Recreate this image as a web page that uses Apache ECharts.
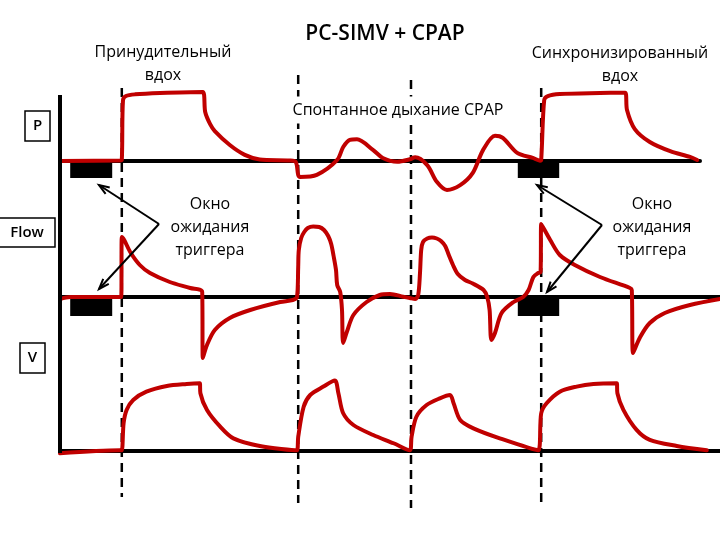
<!DOCTYPE html>
<html>
<head>
<meta charset="utf-8">
<script src="https://cdn.jsdelivr.net/npm/echarts@6/dist/echarts.min.js"></script>
<style>
  html, body { margin: 0; padding: 0; background: #fff; }
  #main { width: 720px; height: 540px; }
</style>
</head>
<body>
<div id="main"></div>
<script>
// time in arbitrary units (1 unit ~ one tick of the sweep), values per panel
const pressure = [
  [0, 0], [1.0, 0.15], [1.03, 0.3], [1.05, 17.9], [1.1, 19.1], [1.25, 19.6], [1.67, 20.0], [2.38, 20.3],
  [2.42, 14.4], [2.5, 10.9], [2.58, 8.8], [2.83, 4.7], [3.08, 1.8], [3.33, 0.44], [3.83, 0.15],
  [3.93, -0.3], [3.97, -4.1], [4.0, -4.7], [4.28, -4.1], [4.62, 0.3], [4.72, 4.1], [4.83, 6.2],
  [4.95, 6.4], [5.22, 3.2], [5.38, 0.9], [5.62, -0.2], [5.83, 0.5], [5.92, 1.1], [6.12, -1.2],
  [6.28, -6.1], [6.45, -8.5], [6.67, -7.1], [6.88, -3.5], [7.05, 3.2], [7.25, 7.4], [7.38, 6.8],
  [7.62, 2.4], [7.88, 0.9], [8.0, 0.1], [8.02, 0.3], [8.07, 17.9], [8.13, 19.1], [8.33, 19.7],
  [9.0, 20.0], [9.42, 20.1], [9.45, 15.0], [9.58, 9.4], [9.83, 5.6], [10.17, 2.9], [10.5, 1.2], [10.62, 0.3]
];
const flow = [
  [0, -2], [0.17, 0], [1.02, 0], [1.03, 60], [1.07, 57], [1.17, 45], [1.33, 32], [1.5, 24], [1.83, 15],
  [2.17, 9], [2.37, 5], [2.38, -61], [2.45, -48], [2.58, -33], [2.83, -21], [3.17, -13], [3.67, -5],
  [3.88, -3], [3.95, 0], [3.97, 30], [3.98, 47], [4.02, 59], [4.07, 65], [4.13, 69], [4.22, 70.5],
  [4.32, 70], [4.4, 67], [4.47, 61], [4.52, 53], [4.56, 41], [4.6, 27], [4.62, 12],
  [4.67, 5], [4.7, -13], [4.72, -46], [4.78, -35], [4.89, -18], [5.11, -5],
  [5.33, 2], [5.5, 3], [5.72, 0.3], [5.83, -1], [5.92, -2], [5.97, 2], [6.0, 24], [6.02, 47],
  [6.05, 55], [6.12, 58.5], [6.2, 59.5], [6.28, 58.5], [6.35, 56], [6.42, 51], [6.48, 42], [6.55, 32],
  [6.63, 23], [6.75, 17], [6.88, 13.5], [7.06, 7], [7.12, 0],
  [7.16, -13], [7.19, -43], [7.25, -36], [7.36, -16], [7.56, -5], [7.72, 0], [7.81, 7], [7.89, 20],
  [7.97, 24], [8.01, 25], [8.02, 73], [8.17, 57], [8.33, 42], [8.58, 32], [9.0, 20], [9.5, 9],
  [9.53, 7], [9.55, -56], [9.67, -40], [9.83, -26], [10.08, -16], [10.5, -8], [11.0, -2]
];
const volume = [
  [0, -17], [1.0, 5], [1.03, 5], [1.06, 208], [1.11, 308], [1.22, 383], [1.44, 445], [1.78, 488],
  [2.11, 503], [2.33, 508], [2.34, 433], [2.45, 308], [2.67, 183], [2.89, 95], [3.33, 38], [3.95, 5],
  [3.97, 105], [4.06, 330], [4.17, 420], [4.39, 483], [4.58, 528], [4.64, 433], [4.72, 283],
  [4.89, 195], [5.22, 120], [5.56, 58], [5.83, 5], [5.86, 107], [5.94, 257], [6.11, 345], [6.33, 395],
  [6.5, 420], [6.56, 358], [6.67, 233], [6.89, 170], [7.33, 95], [7.97, 5], [8.02, 283], [8.11, 358],
  [8.33, 445], [8.61, 483], [8.89, 503], [9.28, 508], [9.29, 433], [9.39, 308], [9.61, 158],
  [9.83, 83], [10.28, 38], [10.78, 5]
];
const breathStarts = [1.03, 3.97, 5.85, 8.02];
const triggerWindows = [[0.17, 0.87], [7.63, 8.32]];
const panelNames = ['P', 'Flow', 'V'];

const RED = '#c00000';
const FONT = '"Open Sans", "Noto Sans", sans-serif';

const chart = echarts.init(document.getElementById('main'));

function xAxisCfg(i, max) {
  return {
    type: 'value', gridIndex: i, min: 0, max: max,
    axisLine: { show: true, onZero: true, lineStyle: { color: '#000', width: 4 } },
    axisTick: { show: false }, axisLabel: { show: false }, splitLine: { show: false }
  };
}
function yAxisCfg(i, min, max) {
  return {
    type: 'value', gridIndex: i, min: min, max: max,
    axisLine: { show: false }, axisTick: { show: false }, axisLabel: { show: false }, splitLine: { show: false }
  };
}
function windows(depth) {
  return {
    silent: true,
    itemStyle: { color: '#000', opacity: 1 },
    data: triggerWindows.map(w => [{ xAxis: w[0], yAxis: 0 }, { xAxis: w[1], yAxis: depth }])
  };
}
function wave(i, data, extra) {
  return Object.assign({
    type: 'line', xAxisIndex: i, yAxisIndex: i, data: data,
    symbol: 'none', smooth: 0.3, animation: false,
    lineStyle: { color: RED, width: 4, cap: 'round', join: 'round' }
  }, extra || {});
}

let option = {
  backgroundColor: '#fff',
  animation: false,
  grid: [
    { left: 60, top: 76, width: 640, height: 119 },
    { left: 60, top: 217, width: 660, height: 160 },
    { left: 60, top: 371, width: 660, height: 100 }
  ],
  xAxis: [xAxisCfg(0, 640 / 60), xAxisCfg(1, 11), xAxisCfg(2, 11)],
  yAxis: [yAxisCfg(0, -10, 25), yAxisCfg(1, -80, 80), yAxisCfg(2, -150, 600)],
  series: [
    wave(0, pressure, { markArea: windows(-5) }),
    wave(1, flow, { markArea: windows(-19) }),
    wave(2, volume)
  ]
};
chart.setOption(option);

// annotations
function arrow(x1, y1, x2, y2) {
  const a = Math.atan2(y2 - y1, x2 - x1), L = 11, w = 0.35;
  return [
    { type: 'line', z: 100, shape: { x1, y1, x2, y2 }, style: { stroke: '#000', lineWidth: 2 } },
    { type: 'polyline', z: 100, shape: { points: [
      [x2 - L * Math.cos(a - w), y2 - L * Math.sin(a - w)], [x2, y2],
      [x2 - L * Math.cos(a + w), y2 - L * Math.sin(a + w)]] },
      style: { stroke: '#000', lineWidth: 2, fill: null } }
  ];
}
function label(text, x, y, size, weight, bg) {
  const style = { text: text, fill: '#000', font: (weight || '500') + ' ' + size + 'px ' + FONT,
    textAlign: 'center', textVerticalAlign: 'middle', lineHeight: 23 };
  if (bg) { style.backgroundColor = bg; style.padding = [2, 0]; }
  return { type: 'text', z: 100, x: x, y: y, style: style };
}
function boxed(text, x1, y1, x2, y2) {
  return [
    { type: 'rect', z: 100, shape: { x: x1, y: y1, width: x2 - x1, height: y2 - y1 },
      style: { fill: '#fff', stroke: '#000', lineWidth: 1.5 } },
    label(text, (x1 + x2) / 2, (y1 + y2) / 2, 15, '600')
  ];
}

const x0 = chart.convertToPixel({ gridIndex: 0 }, [0, 0])[0];
const dashSpans = [[88, 497], [75, 503], [80, 508], [88, 502]];
let g = [];
g.push({ type: 'line', z: 90, shape: { x1: x0, y1: 95, x2: x0, y2: 453 }, style: { stroke: '#000', lineWidth: 4 } });
breathStarts.forEach((t, k) => {
  const x = chart.convertToPixel({ gridIndex: 1 }, [t, 0])[0];
  g.push({ type: 'line', z: 1, shape: { x1: x, y1: dashSpans[k][0], x2: x, y2: dashSpans[k][1] },
    style: { stroke: '#000', lineWidth: 2.5, lineDash: [9, 6] } });
});
g = g.concat(boxed(panelNames[0], 25, 111, 50, 141));
g = g.concat(boxed(panelNames[1], -1, 218, 55, 247));
g = g.concat(boxed(panelNames[2], 20, 343, 45, 373));
g.push(label('PC-SIMV + CPAP', 385, 34, 21, '600'));
g.push(label('Принудительный\nвдох', 163, 64, 16));
g.push(label('Синхронизированный\nвдох', 620, 65, 16));
g.push(label('Спонтанное дыхание CPAP', 398, 110, 16, '500', '#fff'));
g.push(label('Окно\nожидания\nтриггера', 210, 227, 16));
g.push(label('Окно\nожидания\nтриггера', 652, 227, 16));
g = g.concat(arrow(159, 224, 99, 185), arrow(159, 224, 99, 289));
g = g.concat(arrow(602, 225, 537, 185), arrow(602, 225, 547, 292));

chart.setOption({ graphic: { elements: g } });
</script>
</body>
</html>
